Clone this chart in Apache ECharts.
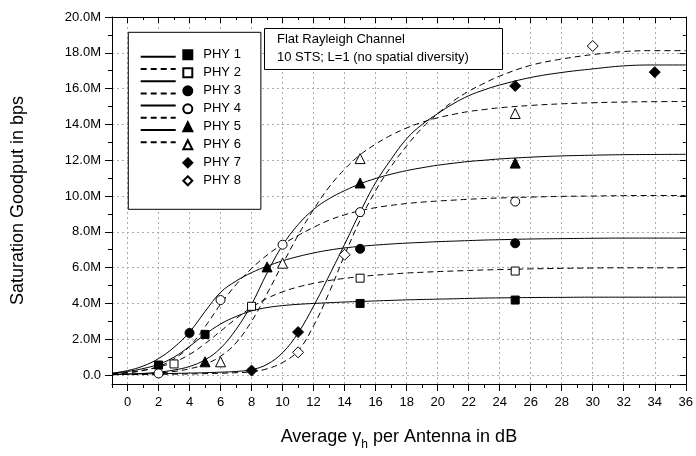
<!DOCTYPE html>
<html>
<head>
<meta charset="utf-8">
<script src="https://cdn.jsdelivr.net/npm/echarts@6/dist/echarts.min.js"></script>
<style>
  html, body { margin: 0; padding: 0; background: #fff; }
  #chart { width: 696px; height: 456px; }
</style>
</head>
<body>
<div id="chart"></div>
<script>
// Average SNR per antenna (dB) at which the fitted goodput curves are sampled
const snrGrid = [-1, 0, 1, 2, 3, 4, 5, 6, 7, 8, 9, 10, 11, 12, 13, 14, 15, 16, 17, 18, 19, 20, 21, 22, 23, 24, 26, 28, 30, 32, 34, 36];

// Fitted saturation goodput curves (Mbps) for each PHY mode
const phy1Curve = [0.10, 0.20, 0.36, 0.60, 1.00, 1.60, 2.27, 2.85, 3.27, 3.58, 3.77, 3.88, 3.95, 4.00, 4.04, 4.08, 4.11, 4.14, 4.17, 4.20, 4.22, 4.24, 4.26, 4.28, 4.30, 4.31, 4.33, 4.34, 4.35, 4.35, 4.35, 4.35];
const phy2Curve = [0.08, 0.15, 0.27, 0.45, 0.72, 1.15, 1.75, 2.45, 3.15, 3.78, 4.28, 4.65, 4.92, 5.12, 5.28, 5.40, 5.50, 5.58, 5.64, 5.70, 5.74, 5.78, 5.81, 5.84, 5.87, 5.89, 5.93, 5.96, 5.98, 5.99, 5.99, 5.99];
const phy3Curve = [0.10, 0.25, 0.50, 0.92, 1.55, 2.40, 3.55, 4.62, 5.25, 5.72, 6.08, 6.38, 6.62, 6.82, 6.98, 7.10, 7.19, 7.26, 7.32, 7.37, 7.41, 7.45, 7.48, 7.51, 7.54, 7.56, 7.60, 7.62, 7.64, 7.65, 7.65, 7.65];
const phy4Curve = [0.05, 0.12, 0.25, 0.48, 0.90, 1.60, 2.70, 3.95, 5.05, 5.95, 6.70, 7.30, 7.80, 8.25, 8.65, 8.95, 9.18, 9.35, 9.48, 9.58, 9.66, 9.72, 9.77, 9.82, 9.86, 9.89, 9.94, 9.98, 10.00, 10.02, 10.03, 10.03];
const phy5Curve = [0.03, 0.05, 0.09, 0.16, 0.28, 0.48, 0.85, 1.50, 2.55, 3.95, 5.70, 7.25, 8.40, 9.25, 9.85, 10.30, 10.68, 10.98, 11.22, 11.42, 11.58, 11.72, 11.83, 11.93, 12.00, 12.07, 12.17, 12.24, 12.28, 12.31, 12.32, 12.33];
const phy6Curve = [0.02, 0.04, 0.07, 0.12, 0.20, 0.35, 0.60, 1.05, 1.80, 3.00, 4.55, 6.20, 7.80, 9.25, 10.50, 11.50, 12.30, 12.90, 13.40, 13.80, 14.12, 14.37, 14.56, 14.72, 14.83, 14.93, 15.06, 15.15, 15.21, 15.25, 15.27, 15.28];
const phy7Curve = [0.05, 0.06, 0.07, 0.08, 0.09, 0.11, 0.13, 0.16, 0.20, 0.30, 0.60, 1.25, 2.35, 3.85, 5.55, 7.30, 9.10, 10.75, 12.05, 13.20, 14.00, 14.60, 15.15, 15.60, 15.93, 16.20, 16.62, 16.90, 17.10, 17.27, 17.32, 17.32];
const phy8Curve = [0.02, 0.03, 0.03, 0.04, 0.05, 0.06, 0.08, 0.10, 0.13, 0.18, 0.35, 0.70, 1.35, 2.75, 4.60, 6.70, 8.65, 10.30, 11.65, 12.80, 13.80, 14.60, 15.30, 15.85, 16.30, 16.70, 17.30, 17.65, 17.90, 18.07, 18.12, 18.12];

// Simulated points [SNR dB, goodput Mbps]
const phy1Points = [[2, 0.56], [5, 2.27], [15, 4.00], [25, 4.19]];
const phy2Points = [[3, 0.62], [8, 3.84], [15, 5.41], [25, 5.81]];
const phy3Points = [[4, 2.35], [15, 7.05], [25, 7.36]];
const phy4Points = [[2, 0.09], [6, 4.19], [10, 7.28], [15, 9.10], [25, 9.69]];
const phy5Points = [[5, 0.74], [9, 6.04], [15, 10.73], [25, 11.84]];
const phy6Points = [[6, 0.74], [10, 6.25], [15, 12.09], [25, 14.61]];
const phy7Points = [[8, 0.25], [11, 2.40], [25, 16.15], [34, 16.92]];
const phy8Points = [[11, 1.27], [14, 6.72], [30, 18.38]];

const phyNames = ['PHY 1', 'PHY 2', 'PHY 3', 'PHY 4', 'PHY 5', 'PHY 6', 'PHY 7', 'PHY 8'];

// Axis ticks
const xMajorTicks = [0, 2, 4, 6, 8, 10, 12, 14, 16, 18, 20, 22, 24, 26, 28, 30, 32, 34, 36];
const xMinorTicks = [-1, 1, 3, 5, 7, 9, 11, 13, 15, 17, 19, 21, 23, 25, 27, 29, 31, 33, 35];
const yMajorTicks = [0, 2, 4, 6, 8, 10, 12, 14, 16, 18, 20];
const yMinorTicks = [1, 3, 5, 7, 9, 11, 13, 15, 17, 19];

const curves = [phy1Curve, phy2Curve, phy3Curve, phy4Curve, phy5Curve, phy6Curve, phy7Curve, phy8Curve];
const points = [phy1Points, phy2Points, phy3Points, phy4Points, phy5Points, phy6Points, phy7Points, phy8Points];

const FONT = 'Liberation Sans';
const markerStyle = [
  { symbol: 'rect', filled: true, size: 8 },
  { symbol: 'rect', filled: false, size: 8 },
  { symbol: 'circle', filled: true, size: 9 },
  { symbol: 'circle', filled: false, size: 9 },
  { symbol: 'triangle', filled: true, size: 10 },
  { symbol: 'triangle', filled: false, size: 10 },
  { symbol: 'diamond', filled: true, size: 11 },
  { symbol: 'diamond', filled: false, size: 11 }
];

const X_MIN = -1, X_MAX = 36, Y_MIN = -0.5, Y_MAX = 20;
const gridLine = { show: true, lineStyle: { color: '#ababab', width: 1, type: [2, 3] } };
const frame = { show: true, onZero: false, lineStyle: { color: '#000', width: 1 } };
const noLine = { show: false, onZero: false };

function xAxisDef(position, ticks, len, inside, opts) {
  return Object.assign({
    type: 'value', position: position, min: X_MIN, max: X_MAX,
    axisLine: noLine,
    axisTick: { show: true, inside: inside, length: len, customValues: ticks, lineStyle: { color: '#000', width: 1 } },
    axisLabel: { show: false },
    splitLine: { show: false }
  }, opts || {});
}
function yAxisDef(position, ticks, len, inside, opts) {
  return Object.assign({
    type: 'value', position: position, min: Y_MIN, max: Y_MAX,
    axisLine: noLine,
    axisTick: { show: true, inside: inside, length: len, customValues: ticks, lineStyle: { color: '#000', width: 1 } },
    axisLabel: { show: false },
    splitLine: { show: false }
  }, opts || {});
}

const series = [];
phyNames.forEach((name, i) => {
  series.push({
    name: name + ' curve',
    type: 'line',
    xAxisIndex: 0, yAxisIndex: 0,
    data: snrGrid.map((x, k) => [x, curves[i][k]]),
    symbol: 'none',
    smooth: 0.4,
    lineStyle: { color: '#000', width: 1, type: i % 2 === 1 ? [6, 4] : 'solid' },
    itemStyle: { color: '#000' },
    z: 2,
    silent: true
  });
});
phyNames.forEach((name, i) => {
  const m = markerStyle[i];
  series.push({
    name: name,
    type: 'scatter',
    xAxisIndex: 0, yAxisIndex: 0,
    data: points[i],
    symbol: m.symbol,
    symbolSize: m.size,
    itemStyle: { color: m.filled ? '#000' : '#fff', borderColor: '#000', borderWidth: 1, opacity: 1 },
    z: 3,
    silent: true
  });
});

const option = {
  backgroundColor: '#fff',
  animation: false,
  textStyle: { fontFamily: FONT },
  grid: { left: 112, right: 8, top: 17, bottom: 64, containLabel: false },
  title: {
    text: 'Flat Rayleigh Channel\n10 STS; L=1 (no spatial diversity)',
    left: 264, top: 28,
    padding: [2, 34, 3, 13],
    backgroundColor: '#fff', borderColor: '#000', borderWidth: 1,
    textStyle: { fontFamily: FONT, fontSize: 13, fontWeight: 'normal', color: '#000', lineHeight: 18.6 }
  },
  legend: [
    {
      // line samples of the legend (text column comes from the marker legend)
      data: phyNames.map(n => n + ' curve'),
      orient: 'vertical', left: 134.7, top: 48.2,
      itemWidth: 35, itemHeight: 9, itemGap: 5,
      selectedMode: false,
      formatter: () => '',
      itemStyle: { opacity: 0, borderWidth: 0 },
      textStyle: { lineHeight: 9, fontSize: 13 },
      z: 6
    },
    {
      data: phyNames,
      orient: 'vertical', left: 128.3, top: 32.3,
      padding: [16, 20, 22, 54],
      itemWidth: 9, itemHeight: 9, itemGap: 5,
      selectedMode: false,
      backgroundColor: '#fff', borderColor: '#000', borderWidth: 1,
      textStyle: { fontFamily: FONT, fontSize: 13, color: '#000', lineHeight: 9, padding: [0, 0, 0, 6] },
      z: 5
    }
  ],
  xAxis: [
    xAxisDef('bottom', xMajorTicks, 7, false, {
      axisLine: frame,
      axisLabel: { show: true, customValues: xMajorTicks, margin: 12, fontSize: 13, color: '#000', fontFamily: FONT },
      splitLine: gridLine,
      name: 'Average γ{s|h} per Antenna in dB',
      nameLocation: 'middle', nameGap: 39,
      nameTextStyle: {
        fontFamily: FONT, fontSize: 18, color: '#000',
        rich: { s: { fontFamily: FONT, fontSize: 12, color: '#000', padding: [16, 0, 0, 0] } }
      }
    }),
    xAxisDef('bottom', xMinorTicks, 4, false),
    xAxisDef('top', xMajorTicks, 6, true, { axisLine: frame }),
    xAxisDef('top', xMinorTicks, 3, true)
  ],
  yAxis: [
    yAxisDef('left', yMajorTicks, 7, false, {
      axisLine: frame,
      axisLabel: {
        show: true, customValues: yMajorTicks, margin: 11, fontSize: 13, color: '#000', fontFamily: FONT,
        formatter: v => (v === 0 ? '0.0' : v.toFixed(1) + 'M')
      },
      splitLine: gridLine,
      name: 'Saturation Goodput in bps',
      nameLocation: 'middle', nameGap: 85,
      nameTextStyle: { fontFamily: FONT, fontSize: 18, color: '#000' }
    }),
    yAxisDef('left', yMinorTicks, 4, false),
    yAxisDef('right', yMajorTicks, 6, true, { axisLine: frame }),
    yAxisDef('right', yMinorTicks, 3, true)
  ],
  series: series
};

const chart = echarts.init(document.getElementById('chart'), null, { renderer: 'canvas' });
chart.setOption(option);
</script>
</body>
</html>
